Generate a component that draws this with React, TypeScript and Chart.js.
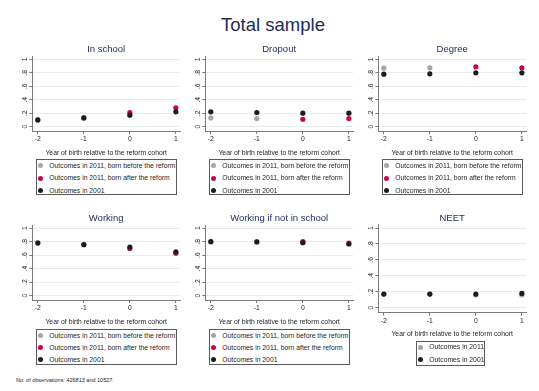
import React, { useEffect, useRef } from "react";
import { Chart, registerables } from "chart.js";

Chart.register(...registerables);

// Cohorts relative to the reform and y-axis tick marks
const cohorts = [-2, -1, 0, 1];
const yTickValues = [0, 0.2, 0.4, 0.6, 0.8, 1];
const yTickLabels = ["0", ".2", ".4", ".6", ".8", "1"];

// In school
const inSchoolBefore = [0.1, 0.13, null, null];
const inSchoolAfter = [null, null, 0.21, 0.28];
const inSchool2001 = [0.1, 0.13, 0.17, 0.22];

// Dropout
const dropoutBefore = [0.13, 0.12, null, null];
const dropoutAfter = [null, null, 0.11, 0.12];
const dropout2001 = [0.22, 0.21, 0.2, 0.2];

// Degree
const degreeBefore = [0.87, 0.875, null, null];
const degreeAfter = [null, null, 0.89, 0.875];
const degree2001 = [0.78, 0.785, 0.8, 0.8];

// Working
const workingBefore = [0.785, 0.76, null, null];
const workingAfter = [null, null, 0.7, 0.63];
const working2001 = [0.78, 0.756, 0.72, 0.65];

// Working if not in school
const winsBefore = [0.8, 0.8, null, null];
const winsAfter = [null, null, 0.8, 0.78];
const wins2001 = [0.8, 0.797, 0.786, 0.766];

// NEET
const neet2011 = [0.17, 0.17, 0.158, 0.158];
const neet2001 = [0.17, 0.17, 0.17, 0.178];

const labelBefore = "Outcomes in 2011, born before the reform";
const labelAfter = "Outcomes in 2011, born after the reform";
const label2001 = "Outcomes in 2001";
const label2011 = "Outcomes in 2011";
const xAxisTitle = "Year of birth relative to the reform cohort";
const mainTitle = "Total sample";
const footnote = "No. of observations: 426813 and 10527.";

const FONT = "'Liberation Sans', Arial, Helvetica, sans-serif";
const NAVY = "#1c2b57";
const GRAY = "#a6a6a6";
const RED = "#c8083c";
const BLACK = "#1d1d1d";
const AXIS = "#7a7a7a";
const GRID = "#e6eded";
const TEXT = "#262626";

const Y_MIN = -0.065;
const Y_MAX = 1.043;
const X_MIN = -2.12;
const X_MAX = 1.09;

type Series = { label: string; values: (number | null)[]; color: string; order: number };

type PanelSpec = {
  title: string;
  left: number;
  top: number;
  w: number;
  h: number;
  yAxisWidth: number;
  xAxisHeight: number;
  padRight: number;
  titlePadTop: number;
  titlePadBottom: number;
  series: Series[];
  legend: { left: number; top: number; width: number; height: number; rows: number[] };
};

const colLefts = [7, 180, 353];

function threeSeries(before: (number | null)[], after: (number | null)[], y2001: (number | null)[]): Series[] {
  return [
    { label: labelBefore, values: before, color: GRAY, order: 2 },
    { label: labelAfter, values: after, color: RED, order: 1 },
    { label: label2001, values: y2001, color: BLACK, order: 0 },
  ];
}

function topRow(col: number, title: string, series: Series[]): PanelSpec {
  return {
    title,
    left: colLefts[col],
    top: 38,
    w: 179,
    h: 119,
    yAxisWidth: 25.3,
    xAxisHeight: 26,
    padRight: 6,
    titlePadTop: 5.3,
    titlePadBottom: 1.8,
    series,
    legend: { left: colLefts[col] + 28.7, top: 159.3, width: 141.5, height: 35.7, rows: [6.4, 18.9, 31.3] },
  };
}

function bottomRow(col: number, title: string, series: Series[]): PanelSpec {
  return {
    title,
    left: colLefts[col],
    top: 207,
    w: 179,
    h: 119,
    yAxisWidth: 25.3,
    xAxisHeight: 26,
    padRight: 6,
    titlePadTop: 5.6,
    titlePadBottom: 1.3,
    series,
    legend: { left: colLefts[col] + 28.7, top: 329.3, width: 141.5, height: 36, rows: [6.3, 18.3, 30.5] },
  };
}

const panels: PanelSpec[] = [
  topRow(0, "In school", threeSeries(inSchoolBefore, inSchoolAfter, inSchool2001)),
  topRow(1, "Dropout", threeSeries(dropoutBefore, dropoutAfter, dropout2001)),
  topRow(2, "Degree", threeSeries(degreeBefore, degreeAfter, degree2001)),
  bottomRow(0, "Working", threeSeries(workingBefore, workingAfter, working2001)),
  bottomRow(1, "Working if not in school", threeSeries(winsBefore, winsAfter, wins2001)),
  {
    title: "NEET",
    left: colLefts[2],
    top: 207,
    w: 179,
    h: 131,
    yAxisWidth: 25.3,
    xAxisHeight: 25.3,
    padRight: 6,
    titlePadTop: 5.6,
    titlePadBottom: 0.7,
    series: [
      { label: label2011, values: neet2011, color: GRAY, order: 1 },
      { label: label2001, values: neet2001, color: BLACK, order: 0 },
    ],
    legend: { left: colLefts[2] + 62.7, top: 341, width: 69.3, height: 24.7, rows: [6.2, 18.7] },
  },
];

function Panel({ spec }: { spec: PanelSpec }) {
  const ref = useRef<HTMLCanvasElement>(null);

  useEffect(() => {
    const canvas = ref.current;
    if (!canvas) return;
    const tickFont = { family: FONT, size: 6.8, lineHeight: 1.2 };
    const chart = new Chart(canvas, {
      type: "scatter",
      data: {
        datasets: spec.series.map((s) => ({
          label: s.label,
          data: cohorts.map((x, i) => ({ x, y: s.values[i] })),
          backgroundColor: s.color,
          borderColor: s.color,
          pointRadius: 2.6,
          pointBorderWidth: 0,
          pointHoverRadius: 2.6,
          order: s.order,
        })),
      },
      options: {
        animation: false,
        responsive: false,
        devicePixelRatio: 1,
        events: [],
        layout: { padding: { left: 0, right: spec.padRight, top: 0, bottom: 0 } },
        plugins: {
          legend: { display: false },
          tooltip: { enabled: false },
          title: {
            display: true,
            text: spec.title,
            color: NAVY,
            fullSize: false,
            font: { family: FONT, size: 9.5, weight: "normal", lineHeight: 1.2 },
            padding: { top: spec.titlePadTop, bottom: spec.titlePadBottom },
          },
        },
        scales: {
          x: {
            type: "linear",
            position: "bottom",
            min: X_MIN,
            max: X_MAX,
            afterBuildTicks: (axis: any) => {
              axis.ticks = cohorts.map((v) => ({ value: v }));
            },
            afterFit: (axis: any) => {
              axis.height = spec.xAxisHeight;
            },
            grid: { display: true, drawOnChartArea: false, drawTicks: true, tickLength: 3, tickColor: AXIS, color: AXIS },
            border: { display: true, color: AXIS, width: 1 },
            ticks: {
              padding: 1,
              color: TEXT,
              font: tickFont,
              maxRotation: 0,
              minRotation: 0,
              callback: (v: any) => String(v),
            },
            title: {
              display: true,
              text: xAxisTitle,
              color: TEXT,
              font: tickFont,
              padding: { top: 0, bottom: 0 },
            },
          },
          y: {
            type: "linear",
            position: "left",
            min: Y_MIN,
            max: Y_MAX,
            afterBuildTicks: (axis: any) => {
              axis.ticks = yTickValues.map((v) => ({ value: v }));
            },
            afterFit: (axis: any) => {
              axis.width = spec.yAxisWidth;
            },
            grid: { display: true, drawOnChartArea: true, drawTicks: true, tickLength: 3, color: GRID, tickColor: AXIS, lineWidth: 1 },
            border: { display: true, color: AXIS, width: 1 },
            ticks: {
              padding: 1.5,
              color: TEXT,
              font: tickFont,
              minRotation: 90,
              maxRotation: 90,
              crossAlign: "center",
              callback: (v: any) => {
                const idx = yTickValues.findIndex((t) => Math.abs(t - Number(v)) < 1e-9);
                return idx >= 0 ? yTickLabels[idx] : "";
              },
            },
          },
        },
      },
    } as any);
    return () => chart.destroy();
  }, [spec]);

  const lg = spec.legend;
  return (
    <>
      <canvas
        ref={ref}
        width={spec.w}
        height={spec.h}
        style={{ position: "absolute", left: spec.left, top: spec.top, width: spec.w, height: spec.h }}
      />
      <div
        style={{
          position: "absolute",
          left: lg.left,
          top: lg.top,
          width: lg.width,
          height: lg.height,
          border: "1px solid #5a5a5a",
          boxSizing: "border-box",
          background: "#fff",
        }}
      >
        {spec.series.map((s, i) => (
          <React.Fragment key={s.label}>
            <div
              style={{
                position: "absolute",
                left: 1.5,
                top: lg.rows[i] - 2.6 - 1,
                width: 5.2,
                height: 5.2,
                borderRadius: "50%",
                background: s.color,
              }}
            />
            <div
              style={{
                position: "absolute",
                left: 12.6,
                top: lg.rows[i] - 5 - 1,
                height: 10,
                lineHeight: "10px",
                fontSize: 6.8,
                fontFamily: FONT,
                color: TEXT,
                whiteSpace: "nowrap",
              }}
            >
              {s.label}
            </div>
          </React.Fragment>
        ))}
      </div>
    </>
  );
}

export default function App() {
  return (
    <div
      style={{
        position: "fixed",
        left: 0,
        top: 0,
        width: 539,
        height: 391,
        background: "#ffffff",
        overflow: "hidden",
        fontFamily: FONT,
      }}
    >
      <div
        style={{
          position: "absolute",
          left: 0,
          top: 16,
          width: 546,
          textAlign: "center",
          fontSize: 18.5,
          lineHeight: 1,
          color: NAVY,
          whiteSpace: "nowrap",
        }}
      >
        {mainTitle}
      </div>
      {panels.map((p) => (
        <Panel key={p.title} spec={p} />
      ))}
      <div
        style={{
          position: "absolute",
          left: 16,
          top: 376,
          fontSize: 5.5,
          lineHeight: "8px",
          color: TEXT,
          whiteSpace: "nowrap",
        }}
      >
        {footnote}
      </div>
    </div>
  );
}
